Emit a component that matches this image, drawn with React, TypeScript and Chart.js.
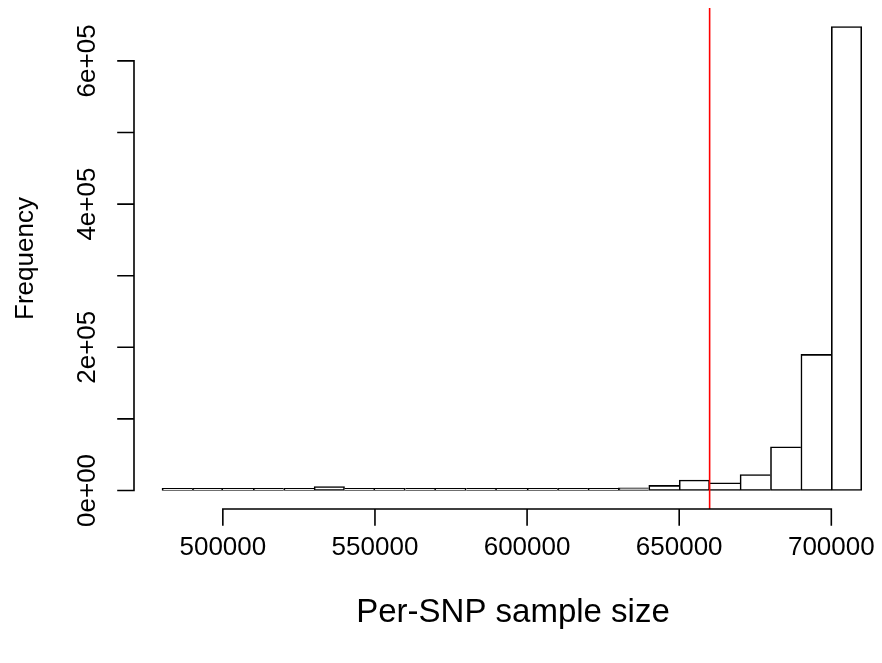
import { useEffect, useRef } from "react";
import { Chart, registerables } from "chart.js";

Chart.register(...registerables);

// Histogram bins (left edges) and counts
const binStarts = [
  480000, 490000, 500000, 510000, 520000, 530000, 540000, 550000, 560000, 570000,
  580000, 590000, 600000, 610000, 620000, 630000, 640000, 650000, 660000, 670000,
  680000, 690000, 700000,
];
const binWidth = 10000;
const counts = [
  300, 800, 600, 700, 1500, 5500, 1800, 400, 200, 200,
  200, 200, 600, 1000, 2000, 3700, 7000, 14500, 10700, 22300,
  61000, 190000, 648000,
];

const xTicks = [500000, 550000, 600000, 650000, 700000];
const xTickLabels = ["500000", "550000", "600000", "650000", "700000"];
const yTicks = [0, 100000, 200000, 300000, 400000, 500000, 600000];
const yTickLabels = ["0e+00", "", "2e+05", "", "4e+05", "", "6e+05"];

const cutoff = 660000;
const xTitle = "Per-SNP sample size";
const yTitle = "Frequency";

const FONT = '"Liberation Sans", Arial, Helvetica, sans-serif';
const LW = 1.6;

export default function App() {
  const ref = useRef<HTMLCanvasElement | null>(null);

  useEffect(() => {
    document.body.style.margin = "0";
    const canvas = ref.current;
    if (!canvas) return;

    const xMinData = binStarts[0];
    const xMaxData = binStarts[binStarts.length - 1] + binWidth;
    const xExt = (xMaxData - xMinData) * 0.04;
    const yMaxData = Math.max(...counts);
    const yExt = yMaxData * 0.04;

    const n = counts.length;

    const axesPlugin = {
      id: "rAxes",
      afterDatasetsDraw(chart: any) {
        const { ctx, chartArea } = chart;
        const xs = chart.scales.x;
        ctx.save();
        ctx.strokeStyle = "#ff0000";
        ctx.lineWidth = 1.6;
        const px = xs.getPixelForValue(cutoff);
        ctx.beginPath();
        ctx.moveTo(px, chartArea.top);
        ctx.lineTo(px, chartArea.bottom);
        ctx.stroke();
        ctx.restore();
      },
      afterDraw(chart: any) {
        const { ctx, chartArea } = chart;
        const xs = chart.scales.x;
        const ys = chart.scales.y;
        const tick = 16;
        ctx.save();
        ctx.strokeStyle = "#000";
        ctx.fillStyle = "#000";
        ctx.lineWidth = LW;
        ctx.lineCap = "square";

        // Y axis
        const ax = Math.round(chartArea.left);
        ctx.beginPath();
        ctx.moveTo(ax, ys.getPixelForValue(yTicks[0]));
        ctx.lineTo(ax, ys.getPixelForValue(yTicks[yTicks.length - 1]));
        yTicks.forEach((v) => {
          const py = ys.getPixelForValue(v);
          ctx.moveTo(ax, py);
          ctx.lineTo(ax - tick, py);
        });
        ctx.stroke();
        ctx.font = `26px ${FONT}`;
        ctx.textAlign = "center";
        ctx.textBaseline = "middle";
        yTicks.forEach((v, i) => {
          const lab = yTickLabels[i];
          if (!lab) return;
          const py = ys.getPixelForValue(v);
          ctx.save();
          ctx.translate(ax - 46, py);
          ctx.rotate(-Math.PI / 2);
          ctx.fillText(lab, 0, 0);
          ctx.restore();
        });

        // X axis
        const ay = Math.round(chartArea.bottom);
        ctx.beginPath();
        ctx.moveTo(xs.getPixelForValue(xTicks[0]), ay);
        ctx.lineTo(xs.getPixelForValue(xTicks[xTicks.length - 1]), ay);
        xTicks.forEach((v) => {
          const px = xs.getPixelForValue(v);
          ctx.moveTo(px, ay);
          ctx.lineTo(px, ay + tick);
        });
        ctx.stroke();
        xTicks.forEach((v, i) => {
          const px = xs.getPixelForValue(v);
          ctx.fillText(xTickLabels[i], px, ay + 39);
        });

        // Axis titles
        ctx.font = `33px ${FONT}`;
        ctx.fillText(xTitle, 513, 613);
        ctx.font = `26px ${FONT}`;
        ctx.save();
        ctx.translate(26, (chartArea.top + chartArea.bottom) / 2);
        ctx.rotate(-Math.PI / 2);
        ctx.fillText(yTitle, 0, 0);
        ctx.restore();
        ctx.restore();
      },
    };

    const chart = new Chart(canvas, {
      type: "bar",
      data: {
        datasets: [
          {
            data: binStarts.map((s, i) => ({ x: s + binWidth / 2, y: counts[i] })),
            backgroundColor: "#ffffff",
            borderColor: "#000000",
            borderWidth: (c: any) => {
              const i = c.dataIndex;
              const left = i === 0 || counts[i] > counts[i - 1] ? LW : 0;
              const right = i === n - 1 || counts[i] >= counts[i + 1] ? LW : 0;
              return { top: LW, bottom: LW, left, right };
            },
            borderSkipped: false,
            barPercentage: 1,
            categoryPercentage: 1,
            minBarLength: 2,
            grouped: false,
          } as any,
        ],
      },
      options: {
        animation: false,
        responsive: false,
        devicePixelRatio: 1,
        layout: { padding: { left: 134, top: 8, right: 2, bottom: 663 - 509 } },
        plugins: { legend: { display: false }, tooltip: { enabled: false } },
        scales: {
          x: {
            type: "linear",
            display: false,
            offset: false,
            min: xMinData - xExt,
            max: 716000,
          },
          y: {
            type: "linear",
            display: false,
            min: -yExt,
            max: yMaxData + yExt,
          },
        },
      } as any,
      plugins: [axesPlugin],
    });

    return () => chart.destroy();
  }, []);

  return (
    <div style={{ width: 882, height: 663, background: "#fff" }}>
      <canvas ref={ref} width={882} height={663} style={{ display: "block" }} />
    </div>
  );
}
